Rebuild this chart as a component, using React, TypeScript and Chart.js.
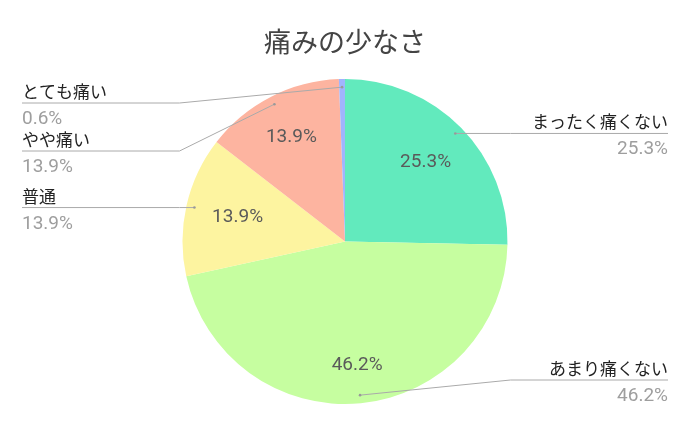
import React, { useEffect, useRef } from "react";
import { Chart, registerables } from "chart.js";

Chart.register(...registerables);

const TITLE = "痛みの少なさ";
const categories = ["まったく痛くない", "あまり痛くない", "普通", "やや痛い", "とても痛い"];
const values = [25.3, 46.2, 13.9, 13.9, 0.6];
const colors = ["#62eabd", "#c6fea0", "#fdf4a0", "#fdb4a0", "#a0b4fd"];

const FONT = "Roboto, 'Noto Sans CJK JP', sans-serif";

const labelPlugin = {
  id: "outLabels",
  afterDraw(chart: any) {
    const ctx = chart.ctx;
    const meta = chart.getDatasetMeta(0);
    const area = chart.chartArea;
    const total = values.reduce((a, b) => a + b, 0);
    const items: any[] = [];
    meta.data.forEach((arc: any, i: number) => {
      const p = arc.getProps(["x", "y", "startAngle", "endAngle", "outerRadius"], true);
      const mid = (p.startAngle + p.endAngle) / 2;
      const r = p.outerRadius;
      const ax = p.x + Math.cos(mid) * r * 0.95;
      const ay = p.y + Math.sin(mid) * r * 0.95;
      const side = Math.cos(mid) >= 0 ? "right" : "left";
      items.push({ i, ax, ay, side, mid, cx: p.x, cy: p.y, r });
    });

    const minY = area.top + 24;
    const maxY = area.bottom - 24;
    const gap = 48;
    ["left", "right"].forEach((side) => {
      const list = items.filter((it) => it.side === side).sort((a, b) => a.ay - b.ay);
      list.forEach((it, k) => {
        let y = Math.min(Math.max(it.ay, minY), maxY);
        if (k > 0) y = Math.max(y, list[k - 1].ly + gap);
        it.ly = y;
      });
      for (let k = list.length - 1; k >= 0; k--) {
        if (k === list.length - 1) list[k].ly = Math.min(list[k].ly, maxY);
        else list[k].ly = Math.min(list[k].ly, list[k + 1].ly - gap);
      }
    });

    ctx.save();
    // inner labels: placed along the mid angle so the text box fits inside r - 26
    items.forEach((it) => {
      const v = values[it.i];
      if (v / total < 0.02) return;
      const txt = v.toFixed(1) + "%";
      ctx.font = `19px ${FONT}`;
      const w = ctx.measureText(txt).width;
      const h = 14;
      const c = Math.cos(it.mid);
      const s = Math.sin(it.mid);
      const a = Math.sign(c) * w / 2;
      const b = Math.sign(s) * h / 2;
      const R = it.r - 26;
      const k1 = c * a + s * b;
      const d = -k1 + Math.sqrt(Math.max(0, k1 * k1 - (a * a + b * b - R * R)));
      const x = it.cx + c * d;
      const y = it.cy + s * d;
      ctx.fillStyle = "#5a5a5a";
      ctx.textAlign = "center";
      ctx.textBaseline = "middle";
      ctx.fillText(txt, x, y);
    });

    // outer labels
    items.forEach((it) => {
      const isLeft = it.side === "left";
      const edgeX = isLeft ? 22 : chart.width - 22;
      const bendX = isLeft ? it.cx - it.r - 3 : it.cx + it.r + 3;
      ctx.strokeStyle = "#aaaaaa";
      ctx.lineWidth = 1;
      ctx.beginPath();
      ctx.moveTo(it.ax, it.ay);
      ctx.lineTo(bendX, it.ly);
      ctx.lineTo(edgeX, it.ly);
      ctx.stroke();
      ctx.fillStyle = "#999999";
      ctx.beginPath();
      ctx.arc(it.ax, it.ay, 1.3, 0, Math.PI * 2);
      ctx.fill();

      ctx.textAlign = isLeft ? "left" : "right";
      ctx.textBaseline = "alphabetic";
      ctx.font = `17px ${FONT}`;
      ctx.fillStyle = "#222222";
      ctx.fillText(categories[it.i], edgeX, it.ly - 5);
      ctx.font = `19px ${FONT}`;
      ctx.fillStyle = "#9e9e9e";
      ctx.fillText(values[it.i].toFixed(1) + "%", edgeX, it.ly + 21);
    });
    ctx.restore();
  },
};

export default function App() {
  const ref = useRef<HTMLCanvasElement>(null);
  useEffect(() => {
    document.body.style.margin = "0";
    const chart = new Chart(ref.current as HTMLCanvasElement, {
      type: "pie",
      data: {
        labels: categories,
        datasets: [
          {
            data: values,
            backgroundColor: colors,
            borderWidth: 0,
          },
        ],
      },
      options: {
        animation: false,
        responsive: true,
        maintainAspectRatio: false,
        layout: { padding: { top: 13, bottom: 22, left: 100, right: 100 } },
        plugins: {
          legend: { display: false },
          tooltip: { enabled: false },
          title: {
            display: true,
            text: TITLE,
            color: "#444444",
            font: { family: FONT, size: 27, weight: "normal" },
            padding: { top: 16, bottom: 17.6 },
          },
        },
      },
      plugins: [labelPlugin],
    });
    return () => chart.destroy();
  }, []);
  return (
    <div style={{ width: 690, height: 426, position: "relative", background: "#fff" }}>
      <canvas ref={ref} />
    </div>
  );
}
